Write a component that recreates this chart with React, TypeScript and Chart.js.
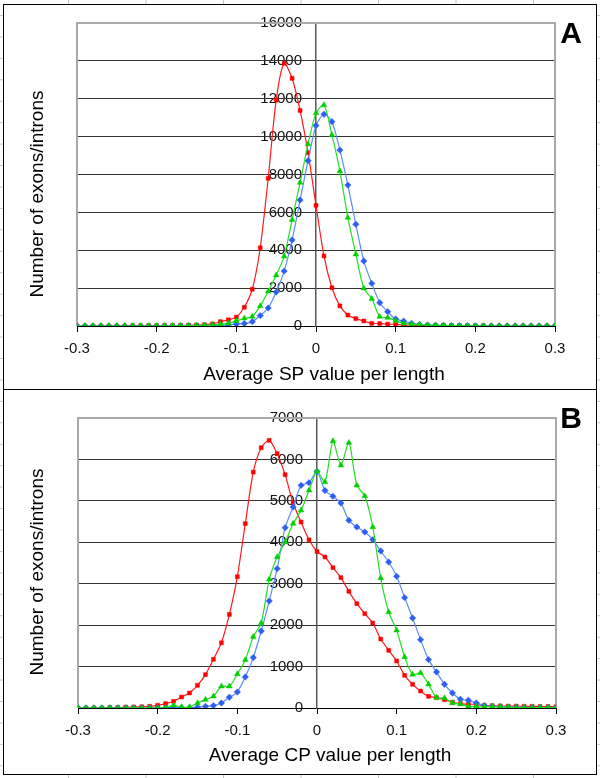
import React, { useEffect, useRef } from 'react';
import { Chart, registerables } from 'chart.js';

Chart.register(...registerables);

// x positions (average value per length)
const xValues = [
  -0.3, -0.29, -0.28, -0.27, -0.26, -0.25, -0.24, -0.23, -0.22, -0.21,
  -0.2, -0.19, -0.18, -0.17, -0.16, -0.15, -0.14, -0.13, -0.12, -0.11,
  -0.1, -0.09, -0.08, -0.07, -0.06, -0.05, -0.04, -0.03, -0.02, -0.01,
  0, 0.01, 0.02, 0.03, 0.04, 0.05, 0.06, 0.07, 0.08, 0.09,
  0.1, 0.11, 0.12, 0.13, 0.14, 0.15, 0.16, 0.17, 0.18, 0.19,
  0.2, 0.21, 0.22, 0.23, 0.24, 0.25, 0.26, 0.27, 0.28, 0.29, 0.3,
];

const xTickLabels = ['-0.3', '-0.2', '-0.1', '0', '0.1', '0.2', '0.3'];
const yTickLabelsA = ['0', '2000', '4000', '6000', '8000', '10000', '12000', '14000', '16000'];
const yTickLabelsB = ['0', '1000', '2000', '3000', '4000', '5000', '6000', '7000'];

// Panel A: Average SP value per length
const spRed = [
  0, 0, 0, 0, 0, 0, 0, 10, 10, 15,
  15, 20, 20, 30, 40, 50, 70, 110, 230, 330,
  470, 990, 1940, 4130, 7800, 11930, 13870, 13080, 11380, 9150,
  6370, 3700, 2020, 1060, 580, 390, 265, 140, 130, 100,
  85, 50, 40, 35, 30, 25, 25, 20, 20, 15,
  15, 10, 0, 0, 0, 0, 0, 0, 0, 0, 0,
];
const spGreen = [
  0, 0, 0, 0, 0, 0, 0, 0, 0, 0,
  0, 5, 10, 15, 20, 30, 40, 60, 100, 140,
  270, 400, 500, 1060, 1830, 2680, 3680, 5610, 7570, 9610,
  11240, 11670, 10090, 8180, 5720, 3790, 1990, 1440, 490, 440,
  280, 140, 100, 80, 50, 40, 30, 20, 10, 5,
  5, 0, 0, 0, 0, 0, 0, 0, 0, 0, 0,
];
const spBlue = [
  0, 0, 0, 0, 0, 0, 0, 0, 0, 0,
  0, 0, 5, 10, 10, 15, 20, 30, 40, 60,
  100, 130, 230, 550, 950, 1790, 2900, 4540, 6650, 8730,
  10590, 11180, 10790, 9290, 7440, 5370, 3430, 2250, 1230, 755,
  370, 260, 140, 80, 50, 40, 30, 20, 15, 10,
  0, 0, 0, 0, 0, 0, 0, 0, 0, 0, 0,
];

// Panel B: Average CP value per length
const cpRed = [
  0, 0, 0, 0, 10, 10, 20, 25, 30, 40,
  65, 106, 162, 265, 362, 548, 806, 1175, 1574, 2258,
  3170, 4450, 5695, 6283, 6460, 6139, 5632, 4947, 4488, 4060,
  3777, 3644, 3388, 3147, 2816, 2519, 2278, 2051, 1665, 1392,
  1134, 789, 572, 410, 282, 251, 200, 137, 106, 90,
  89, 60, 55, 50, 45, 45, 40, 40, 35, 35, 30,
];
const cpGreen = [
  0, 0, 0, 0, 0, 0, 0, 0, 0, 0,
  0, 10, 65, 24, 24, 121, 203, 282, 523, 523,
  820, 1160, 1720, 2051, 3105, 3644, 4006, 4450, 4771, 5253,
  5715, 5454, 6443, 5857, 6404, 5374, 5116, 4368, 3137, 2317,
  1875, 1231, 806, 845, 570, 251, 240, 121, 95, 40,
  40, 30, 35, 30, 20, 10, 10, 10, 10, 10, 10,
];
const cpBlue = [
  0, 0, 0, 0, 0, 0, 0, 0, 0, 0,
  5, 5, 10, 10, 10, 20, 40, 58, 121, 260,
  386, 748, 1216, 1858, 2582, 3364, 4353, 4850, 5374, 5439,
  5712, 5250, 5109, 4947, 4529, 4368, 4247, 4063, 3788, 3523,
  3178, 2664, 2172, 1650, 1168, 869, 572, 362, 210, 186,
  121, 60, 40, 30, 20, 15, 10, 10, 10, 10, 10,
];

const FONT = "'Liberation Sans', Arial, Helvetica, sans-serif";

const decorPlugin = {
  id: 'decor',
  beforeDraw(chart: any, _args: any, opts: any) {
    // y tick labels, left of the vertical axis that crosses at x = 0
    const { ctx, scales } = chart;
    const xs = scales.x;
    const ys = scales.y;
    const axisX = xs.getPixelForValue(0);
    ctx.save();
    ctx.fillStyle = '#111';
    ctx.font = `15px ${FONT}`;
    ctx.textAlign = 'right';
    ctx.textBaseline = 'middle';
    ys.ticks.forEach((t: any, i: number) => {
      const label = opts.yLabels[i];
      if (label !== undefined) ctx.fillText(label, axisX - 14, ys.getPixelForValue(t.value));
    });
    ctx.restore();
  },
  beforeDatasetsDraw(chart: any) {
    const { ctx, chartArea: a } = chart;
    ctx.save();
    ctx.strokeStyle = '#a9a9a9';
    ctx.lineWidth = 2;
    ctx.beginPath();
    ctx.moveTo(a.left, a.bottom);
    ctx.lineTo(a.left, a.top);
    ctx.lineTo(a.right, a.top);
    ctx.lineTo(a.right, a.bottom);
    ctx.stroke();
    ctx.restore();
  },
  afterDraw(chart: any, _args: any, opts: any) {
    const { ctx } = chart;
    ctx.save();
    ctx.fillStyle = '#000';
    // panel letter
    ctx.font = `bold 30px ${FONT}`;
    ctx.textAlign = 'center';
    ctx.textBaseline = 'alphabetic';
    ctx.fillText(opts.letter, opts.letterX, opts.letterY);
    // x title
    ctx.font = `19px ${FONT}`;
    ctx.fillText(opts.xTitle, opts.xTitleX, opts.xTitleY);
    // y title
    ctx.translate(opts.yTitleX, opts.yTitleY);
    ctx.rotate(-Math.PI / 2);
    ctx.fillText(opts.yTitle, 0, 0);
    ctx.restore();
  },
};

function makeDataset(values: number[], kind: 'red' | 'green' | 'blue') {
  const styles: any = {
    red: { line: '#ff1a1a', point: '#ff0000', style: 'rect', r: 2.8 },
    green: { line: '#22e022', point: '#00d000', style: 'triangle', r: 3.3 },
    blue: { line: '#5c8cff', point: '#2f5ff0', style: 'rectRot', r: 3.2 },
  };
  const s = styles[kind];
  return {
    data: xValues.map((x, i) => ({ x, y: values[i] })),
    borderColor: s.line,
    borderWidth: 1.2,
    backgroundColor: s.point,
    pointStyle: s.style,
    pointRadius: s.r,
    pointBackgroundColor: s.point,
    pointBorderColor: s.point,
    pointBorderWidth: 0.5,
    tension: 0.25,
    fill: false,
  };
}

function makeConfig(p: {
  red: number[];
  green: number[];
  blue: number[];
  yMax: number;
  yStep: number;
  yLabels: string[];
  padding: { left: number; right: number; top: number; bottom: number };
  decor: any;
}): any {
  const tickFont = { family: FONT, size: 15 };
  return {
    type: 'line',
    data: {
      datasets: [makeDataset(p.green, 'green'), makeDataset(p.blue, 'blue'), makeDataset(p.red, 'red')],
    },
    plugins: [decorPlugin],
    options: {
      animation: false,
      responsive: false,
      maintainAspectRatio: false,
      layout: { padding: p.padding },
      plugins: {
        legend: { display: false },
        tooltip: { enabled: false },
        decor: { ...p.decor, yLabels: p.yLabels },
      },
      scales: {
        x: {
          type: 'linear',
          position: { y: 0 },
          min: -0.3,
          max: 0.3,
          grid: { drawOnChartArea: false, drawTicks: true, tickLength: 5, color: '#000' },
          border: { display: true, color: '#000', width: 1 },
          ticks: {
            stepSize: 0.1,
            autoSkip: false,
            maxRotation: 0,
            padding: 9,
            color: '#111',
            font: tickFont,
            callback: (_v: any, i: number) => xTickLabels[i],
          },
        },
        y: {
          type: 'linear',
          position: { x: 0 },
          min: 0,
          max: p.yMax,
          grid: { color: '#333', lineWidth: 1, tickLength: 5 },
          border: { display: true, color: '#5a5a5a', width: 1.5 },
          ticks: {
            display: false,
            stepSize: p.yStep,
            autoSkip: false,
            font: tickFont,
          },
        },
      },
    },
  };
}

export default function App() {
  const refA = useRef<HTMLCanvasElement | null>(null);
  const refB = useRef<HTMLCanvasElement | null>(null);

  useEffect(() => {
    const a = new Chart(
      refA.current as HTMLCanvasElement,
      makeConfig({
        red: spRed,
        green: spGreen,
        blue: spBlue,
        yMax: 16000,
        yStep: 2000,
        yLabels: yTickLabelsA,
        padding: { left: 73, right: 41, top: 18, bottom: 63 },
        decor: {
          letter: 'A',
          letterX: 567,
          letterY: 38,
          xTitle: 'Average SP value per length',
          xTitleX: 320,
          xTitleY: 375,
          yTitle: 'Number of exons/introns',
          yTitleX: 39,
          yTitleY: 189,
        },
      })
    );
    const b = new Chart(
      refB.current as HTMLCanvasElement,
      makeConfig({
        red: cpRed,
        green: cpGreen,
        blue: cpBlue,
        yMax: 7000,
        yStep: 1000,
        yLabels: yTickLabelsB,
        padding: { left: 74, right: 40, top: 28, bottom: 66 },
        decor: {
          letter: 'B',
          letterX: 567,
          letterY: 38,
          xTitle: 'Average CP value per length',
          xTitleX: 326,
          xTitleY: 371,
          yTitle: 'Number of exons/introns',
          yTitleX: 39,
          yTitleY: 182,
        },
      })
    );
    return () => {
      a.destroy();
      b.destroy();
    };
  }, []);

  const panel = (top: number): React.CSSProperties => ({
    position: 'absolute',
    left: 3,
    top,
    width: 594,
    height: 386,
    boxSizing: 'border-box',
    border: '1px solid #000',
    background: '#fff',
  });

  return (
    <div
      style={{
        position: 'absolute',
        left: 0,
        top: 0,
        width: 600,
        height: 778,
        overflow: 'hidden',
        backgroundColor: '#fff',
        backgroundImage:
          'linear-gradient(to right, #c4c4c4 1px, transparent 1px), linear-gradient(to bottom, #c4c4c4 1px, transparent 1px)',
        backgroundSize: '77.5px 100%, 100% 21.45px',
        backgroundPosition: '68px 0, 0 15px',
      }}
    >
      <div style={panel(4)}>
        <canvas ref={refA} width={592} height={384} style={{ display: 'block', width: 592, height: 384 }} />
      </div>
      <div style={panel(389)}>
        <canvas ref={refB} width={592} height={384} style={{ display: 'block', width: 592, height: 384 }} />
      </div>
    </div>
  );
}
